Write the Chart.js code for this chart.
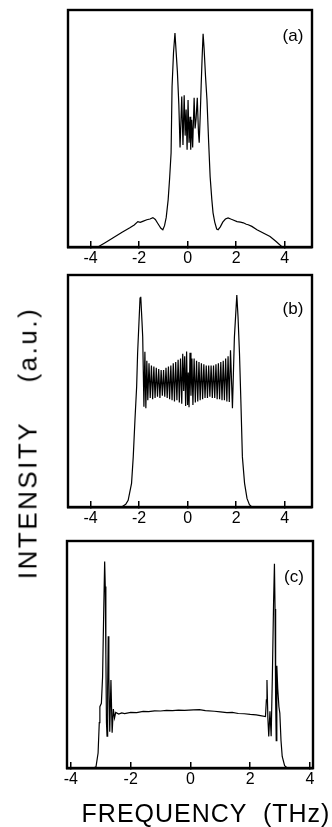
<!DOCTYPE html>
<html>
<head>
<meta charset="utf-8">
<script src="https://cdn.jsdelivr.net/npm/chart.js@4.4.1/dist/chart.umd.min.js"></script>
<style>
  html, body { margin: 0; padding: 0; background: #fff; }
  #wrap { position: relative; width: 332px; height: 827px; overflow: hidden; font-family: 'Liberation Sans', Arial, sans-serif; color: #000; }
  .panel { position: absolute; }
  .ylab { position: absolute; left: 28px; top: 443px; transform: translate(-50%, -50%) rotate(-90deg); white-space: pre; font-size: 26px; letter-spacing: 2.5px; }
  .xlab { position: absolute; left: 206px; top: 813px; transform: translate(-50%, -50%); white-space: pre; font-size: 25px; letter-spacing: 1px; }
</style>
</head>
<body>
<div id="wrap">
  <div class="panel" style="left:40px;top:0px;width:292px;height:269px"><canvas id="chart-a"></canvas></div>
  <div class="panel" style="left:40px;top:265px;width:292px;height:264px"><canvas id="chart-b"></canvas></div>
  <div class="panel" style="left:40px;top:531px;width:292px;height:259px"><canvas id="chart-c"></canvas></div>
  <div class="ylab">INTENSITY    (a.u.)</div>
  <div class="xlab">FREQUENCY  (THz)</div>
</div>
<script>
// Spectra: frequency (THz) vs intensity (% of panel height)
// =============================================================

const xTicks = [-4, -2, 0, 2, 4]

// panel (a)
const aFreq = [
  -3.70, -3.40, -3.00, -2.70, -2.38, -2.20, -2.05, -1.95, -1.85, -1.68,
  -1.55, -1.43, -1.33, -1.22, -1.10, -1.02, -0.95, -0.88, -0.80, -0.74,
  -0.68, -0.64, -0.58, -0.52, -0.47, -0.42, -0.36, -0.31, -0.24, -0.19,
  -0.14, -0.10, -0.06, -0.02, 0.02, 0.06, 0.10, 0.13, 0.17, 0.21,
  0.27, 0.31, 0.35, 0.40, 0.45, 0.48, 0.52, 0.56, 0.60, 0.64,
  0.68, 0.74, 0.80, 0.87, 0.93, 1.00, 1.05, 1.12, 1.20, 1.26,
  1.35, 1.45, 1.56, 1.67, 1.78, 1.88, 2.04, 2.18, 2.30, 2.42,
  2.50, 2.65, 2.86, 3.10, 3.40, 3.65, 3.90
]
const aInt = [
  0, 1.8, 4.3, 6.2, 8.1, 9.3, 10.7, 10.4, 10.8, 11.5,
  11.8, 12.4, 11.6, 9.8, 7.9, 7.3, 9.0, 12.5, 20, 29,
  39.7, 67.5, 82, 90.3, 82, 74, 60, 42, 63.5, 43,
  64, 47, 58, 41, 62, 44, 55, 41, 53.7, 42,
  63, 50, 54, 63, 48, 44, 55, 68, 80, 90,
  84, 72, 62, 44, 29.7, 20, 14.4, 10.5, 7.6, 7.3,
  8.5, 10.5, 11.8, 12.3, 11.8, 11.4, 10.7, 10.5, 10.2, 9.6,
  9.4, 8.7, 7.3, 6.0, 4.4, 2.3, 0
]

// panel (b)
const bFreq = [
  -2.72, -2.55, -2.45, -2.31, -2.24, -2.17, -2.10, -2.06, -1.96, -1.93,
  -1.88, -1.85, -1.80, -1.76, -1.72, -1.68, -1.64, -1.59, -1.54, -1.49,
  -1.44, -1.39, -1.34, -1.29, -1.24, -1.19, -1.14, -1.09, -1.04, -0.99,
  -0.94, -0.89, -0.84, -0.79, -0.74, -0.69, -0.64, -0.59, -0.54, -0.49,
  -0.44, -0.39, -0.34, -0.29, -0.24, -0.20, -0.16, -0.12, -0.08, -0.04,
  0.00, 0.03, 0.06, 0.10, 0.14, 0.18, 0.22, 0.27, 0.32, 0.37,
  0.42, 0.47, 0.52, 0.57, 0.62, 0.67, 0.72, 0.77, 0.82, 0.87,
  0.92, 0.97, 1.02, 1.07, 1.12, 1.17, 1.22, 1.27, 1.32, 1.37,
  1.42, 1.47, 1.52, 1.57, 1.62, 1.67, 1.72, 1.77, 1.85, 1.93,
  2.03, 2.08, 2.14, 2.20, 2.26, 2.35, 2.45, 2.55, 2.65
]
const bInt = [
  0, 1.2, 2.9, 10.2, 21.6, 37.4, 51.8, 66.3, 90, 90.6,
  80, 73.4, 43.2, 66.9, 42.6, 63, 46, 62, 47, 61,
  46.5, 60.5, 47, 60, 47.5, 59.5, 47, 59, 48, 59,
  47.5, 60, 47, 60.5, 46.5, 61, 46, 62, 45.5, 62.5,
  46, 63.5, 45, 64, 44.5, 66, 50, 65, 43.5, 67,
  44, 58, 43, 66.5, 48, 64, 44, 64, 45, 63,
  45.5, 62.5, 46, 62, 46.5, 61.5, 47, 61, 47, 61,
  47.5, 61, 47, 61, 47, 61.5, 46.5, 62, 46.5, 62.5,
  46, 63, 46, 64, 45.5, 65, 45.3, 67.6, 42.6, 73,
  91.4, 82, 66.3, 44.7, 21.6, 10.2, 3.7, 1, 0
]

// panel (c)
const cFreq = [
  -3.25, -3.16, -3.09, -3.05, -3.03, -2.98, -2.94, -2.90, -2.87, -2.85,
  -2.83, -2.81, -2.79, -2.77, -2.75, -2.73, -2.70, -2.66, -2.62, -2.58,
  -2.54, -2.50, -2.40, -2.30, -2.20, -2.00, -1.80, -1.58, -1.40, -1.20,
  -1.00, -0.80, -0.60, -0.40, -0.20, 0.10, 0.30, 0.50, 0.80, 1.00,
  1.22, 1.40, 1.60, 1.80, 2.00, 2.20, 2.34, 2.51, 2.54, 2.56,
  2.59, 2.62, 2.66, 2.70, 2.74, 2.78, 2.81, 2.83, 2.85, 2.87,
  2.89, 2.92, 2.96, 2.99, 3.03, 3.07, 3.15, 3.24
]
const cInt = [
  0, 0.5, 6.6, 20, 27, 28.5, 40, 70, 91, 80,
  50, 20, 14, 35, 58, 40, 16, 38.8, 15.5, 26,
  22, 24.5, 23.8, 24.3, 24.0, 24.5, 24.4, 24.9, 24.8, 25.2,
  25.1, 25.4, 25.3, 25.5, 25.4, 25.6, 25.7, 25.3, 25.0, 24.7,
  24.4, 24.5, 24.0, 23.9, 23.6, 23.4, 23.1, 22.7, 30, 38.8,
  22, 13.9, 25, 14, 40, 72, 90, 70, 30, 12,
  45, 35, 27, 24.2, 12, 5.1, 1, 0
]

Chart.defaults.font.family = "'Liberation Sans', Arial, sans-serif"
Chart.defaults.color = '#000'

// frame round the plot area and the (a)/(b)/(c) tag
const framePlugin = {
  id: 'frame',
  afterDraw (chart, args, opts) {
    const { ctx, chartArea: a } = chart
    ctx.save()
    ctx.strokeStyle = '#000'
    ctx.lineWidth = 2.4
    ctx.strokeRect(a.left, a.top, a.right - a.left, a.bottom - a.top)
    ctx.font = "17px 'Liberation Sans', Arial, sans-serif"
    ctx.fillStyle = '#000'
    ctx.textAlign = 'center'
    ctx.textBaseline = 'middle'
    ctx.fillText(opts.tag, a.right - 19, a.top + opts.tagY)
    ctx.restore()
  }
}

function spectrum (id, freq, inten, xmin, xmax, pad, tag, tagY) {
  const points = freq.map((f, i) => ({ x: f, y: inten[i] }))
  return new Chart(document.getElementById(id), {
    type: 'line',
    data: {
      datasets: [{
        data: points,
        borderColor: '#000',
        borderWidth: 1.2,
        pointRadius: 0,
        tension: 0,
        fill: false
      }]
    },
    options: {
      responsive: true,
      maintainAspectRatio: false,
      animation: false,
      layout: { padding: pad },
      plugins: {
        legend: { display: false },
        tooltip: { enabled: false },
        frame: { tag: tag, tagY: tagY }
      },
      scales: {
        x: {
          type: 'linear',
          min: xmin,
          max: xmax,
          afterBuildTicks: scale => { scale.ticks = xTicks.map(v => ({ value: v })) },
          afterFit: scale => { scale.height = 22 },
          grid: { display: true, drawOnChartArea: false, drawTicks: true, tickLength: -6, color: '#000', lineWidth: 1.5 },
          border: { display: true, color: '#000', width: 2.4 },
          ticks: { padding: 8, font: { size: 16 }, color: '#000', maxRotation: 0, autoSkip: false }
        },
        y: {
          display: false,
          min: 0,
          max: 100
        }
      }
    },
    plugins: [framePlugin]
  })
}

spectrum('chart-a', aFreq, aInt, -4.93, 5.13, { left: 28, right: 20, top: 10, bottom: 0 }, '(a)', 26.7)
spectrum('chart-b', bFreq, bInt, -4.93, 5.13, { left: 28, right: 20, top: 10, bottom: 0 }, '(b)', 34.5)
spectrum('chart-c', cFreq, cInt, -4.13, 4.10, { left: 27, right: 19, top: 10, bottom: 0 }, '(c)', 36)
</script>
</body>
</html>
